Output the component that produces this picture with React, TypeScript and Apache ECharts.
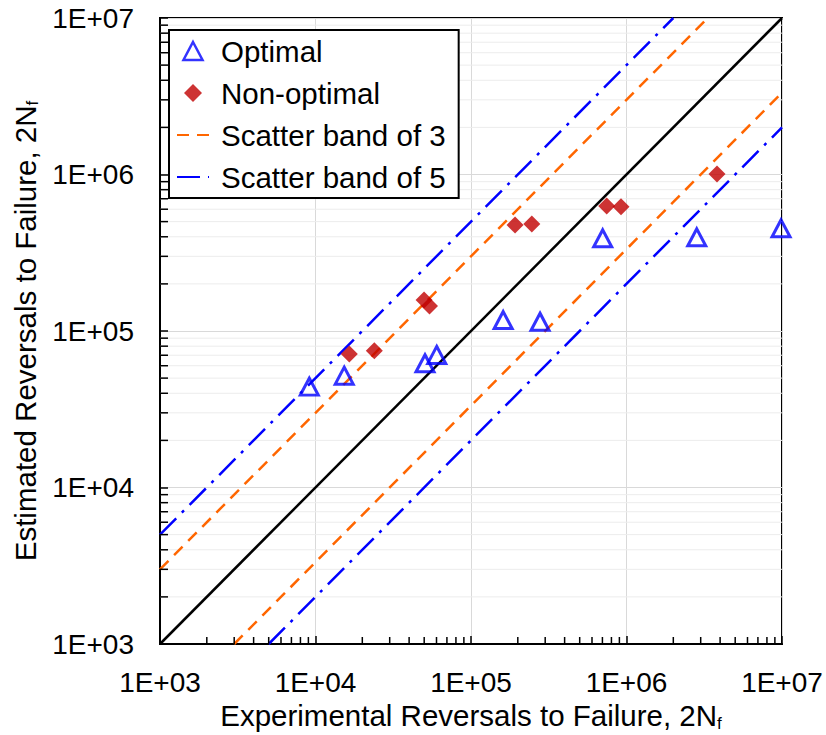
import React, { useEffect, useRef } from "react";
import * as echarts from "echarts";

const FONT = "'Liberation Sans', Arial, sans-serif";

const X_MIN = 1e3;
const X_MAX = 1e7;
const Y_MIN = 1e3;
const Y_MAX = 1e7;

const majorTickLabels = ["1E+03", "1E+04", "1E+05", "1E+06", "1E+07"];
const minorMultipliers = [2, 3, 4, 5, 6, 7, 8, 9];
const decades = [1e3, 1e4, 1e5, 1e6];

const optimalX = [9.12e3, 1.53e4, 5.06e4, 6.02e4, 1.61e5, 2.78e5, 7.03e5, 2.83e6, 9.86e6];
const optimalY = [4.41e4, 5.18e4, 6.22e4, 7.03e4, 1.175e5, 1.146e5, 3.91e5, 3.97e5, 4.53e5];

const nonOptimalX = [1.65e4, 2.39e4, 4.99e4, 5.41e4, 1.92e5, 2.46e5, 7.46e5, 9.22e5, 3.82e6];
const nonOptimalY = [7.13e4, 7.48e4, 1.58e5, 1.445e5, 4.76e5, 4.83e5, 6.29e5, 6.23e5, 1.007e6];

const bandFactors3 = [3, 1 / 3];
const bandFactors5 = [5, 1 / 5];

function bandSegment(k: number): number[][] {
  const x1 = Math.max(X_MIN, Y_MIN / k);
  const x2 = Math.min(X_MAX, Y_MAX / k);
  return [
    [x1, k * x1],
    [x2, k * x2],
  ];
}

const minorValues: number[] = [];
decades.forEach((d) => minorMultipliers.forEach((m) => minorValues.push(m * d)));

function labelFmt(v: number): string {
  const e = Math.round(Math.log10(v));
  const lbl = majorTickLabels.find((s) => parseInt(s.slice(3), 10) === e);
  return lbl ?? "";
}

export default function App() {
  const ref = useRef<HTMLDivElement>(null);
  useEffect(() => {
    if (!ref.current) return;
    document.body.style.margin = "0";
    const chart = echarts.init(ref.current, undefined, { renderer: "svg", width: 826, height: 735 });
    const orange = "#FF6600";
    const blue = "#0000FF";
    const series: any[] = [
      {
        name: "minorGrid",
        type: "custom",
        z: 1,
        silent: true,
        data: minorValues.map((v) => [X_MIN, v]),
        renderItem: (params: any, api: any) => {
          const cs = params.coordSys;
          const p = api.coord([X_MIN, api.value(1)]);
          return {
            type: "line",
            shape: { x1: cs.x, y1: p[1], x2: cs.x + cs.width, y2: p[1] },
            style: { stroke: "#ececec", lineWidth: 1 },
          };
        },
      },
      {
        name: "minorTickY",
        type: "custom",
        z: 20,
        silent: true,
        data: minorValues.map((v) => [X_MIN, v]),
        renderItem: (params: any, api: any) => {
          const cs = params.coordSys;
          const p = api.coord([X_MIN, api.value(1)]);
          return {
            type: "line",
            shape: { x1: cs.x, y1: p[1], x2: cs.x + 8, y2: p[1] },
            style: { stroke: "#000", lineWidth: 1.5 },
          };
        },
      },
      {
        name: "minorTickX",
        type: "custom",
        z: 20,
        silent: true,
        data: minorValues.map((v) => [v, Y_MIN]),
        renderItem: (params: any, api: any) => {
          const cs = params.coordSys;
          const p = api.coord([api.value(0), Y_MIN]);
          const yb = cs.y + cs.height;
          return {
            type: "line",
            shape: { x1: p[0], y1: yb, x2: p[0], y2: yb - 7 },
            style: { stroke: "#000", lineWidth: 1.5 },
          };
        },
      },
      {
        name: "1:1",
        type: "line",
        z: 3,
        symbol: "none",
        data: bandSegment(1),
        lineStyle: { color: "#000", width: 2.5 },
      },
      ...bandFactors3.map((k) => ({
        name: "Scatter band of 3",
        type: "line",
        z: 3,
        symbol: "none",
        data: bandSegment(k),
        itemStyle: { color: orange },
        lineStyle: { color: orange, width: 2.5, type: [12, 8] },
      })),
      ...bandFactors5.map((k) => ({
        name: "Scatter band of 5",
        type: "line",
        z: 3,
        symbol: "none",
        data: bandSegment(k),
        itemStyle: { color: blue },
        lineStyle: { color: blue, width: 2.5, type: [23, 8, 3, 8] },
      })),
      {
        name: "Optimal",
        type: "scatter",
        z: 5,
        symbol: "triangle",
        symbolSize: [18, 17],
        data: optimalX.map((x, i) => [x, optimalY[i]]),
        itemStyle: { color: "rgba(255,255,255,0)", borderColor: blue, borderWidth: 3 },
      },
      {
        name: "Non-optimal",
        type: "scatter",
        z: 6,
        symbol: "diamond",
        symbolSize: 17,
        data: nonOptimalX.map((x, i) => [x, nonOptimalY[i]]),
        itemStyle: { color: "#C00000" },
      },
    ];

    const axisCommon = {
      type: "log",
      logBase: 10,
      axisLine: { show: true, lineStyle: { color: "#000", width: 2 } },
      axisTick: { show: true, inside: true, length: 8, lineStyle: { color: "#000", width: 1.5 } },
      splitLine: { show: true, lineStyle: { color: "#d9d9d9", width: 1 } },
      minorTick: { show: false },
      minorSplitLine: { show: false },
    };

    const nameRich = {
      a: { fontSize: 29.5, fontFamily: FONT, color: "#000", lineHeight: 32, verticalAlign: "middle" },
      s: { fontSize: 17, fontFamily: FONT, color: "#000", lineHeight: 18, verticalAlign: "bottom", padding: [7, 0, 0, 0] },
    };

    chart.setOption({
      animation: false,
      backgroundColor: "#fff",
      textStyle: { fontFamily: FONT },
      grid: {
        left: 160,
        right: 44,
        top: 18,
        bottom: 91,
        show: true,
        borderColor: "#000",
        borderWidth: 2,
        backgroundColor: "transparent",
        containLabel: false,
        outerBoundsMode: "none",
      },
      legend: {
        data: [
          {
            name: "Optimal",
            icon: "path://M9,0L18,17L0,17Z",
            itemStyle: { color: "rgba(255,255,255,0)", borderColor: blue, borderWidth: 2.5 },
          },
          {
            name: "Non-optimal",
            icon: "path://M9,0L18,9L9,18L0,9Z",
            itemStyle: { color: "#C00000", borderWidth: 0 },
          },
          { name: "Scatter band of 3", itemStyle: { opacity: 0 } },
          { name: "Scatter band of 5", itemStyle: { opacity: 0 } },
        ],
        orient: "vertical",
        left: 169,
        top: 30,
        padding: [6, 13, 6, 7],
        itemGap: 12,
        itemWidth: 32,
        itemHeight: 18,
        symbolKeepAspect: true,
        borderColor: "#000",
        borderWidth: 2,
        borderRadius: 0,
        backgroundColor: "#fff",
        selectedMode: false,
        z: 30,
        textStyle: { fontSize: 29.5, lineHeight: 30, fontFamily: FONT, color: "#000", padding: [0, 0, 0, 7] },
      },
      xAxis: {
        ...axisCommon,
        min: X_MIN,
        max: X_MAX,
        axisLabel: { formatter: labelFmt, fontSize: 28, color: "#000", fontFamily: FONT, margin: 24 },
        name: "{a|Experimental Reversals to Failure, 2N}{s|f}",
        nameLocation: "middle",
        nameGap: 53,
        nameTextStyle: { color: "#000", rich: nameRich },
      },
      yAxis: {
        ...axisCommon,
        min: Y_MIN,
        max: Y_MAX,
        axisLabel: { formatter: labelFmt, fontSize: 28, color: "#000", fontFamily: FONT, margin: 26 },
        name: "{a|Estimated Reversals to Failure, 2N}{s|f}",
        nameLocation: "middle",
        nameGap: 116,
        nameTextStyle: { color: "#000", rich: nameRich },
      },
      series,
    });
    return () => chart.dispose();
  }, []);
  return (
    <div
      ref={ref}
      style={{ position: "fixed", left: 0, top: 0, width: 826, height: 735, background: "#fff" }}
    />
  );
}
